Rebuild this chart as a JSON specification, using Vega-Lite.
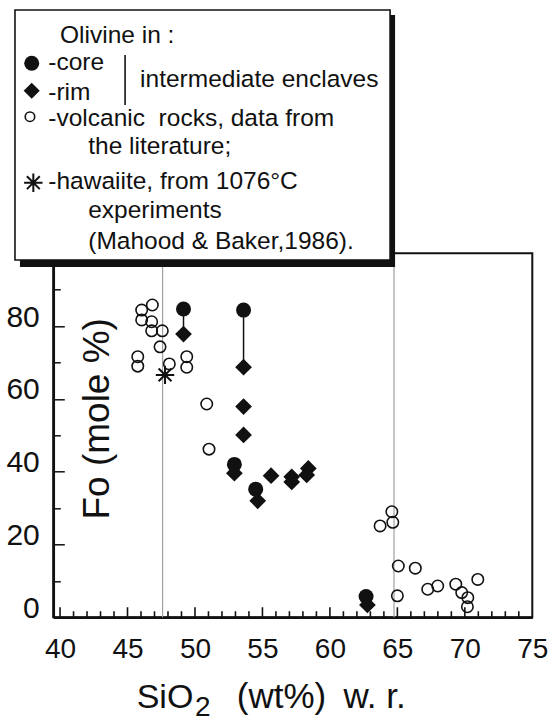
{
  "$schema": "https://vega.github.io/schema/vega-lite/v6.json",
  "width": 479,
  "height": 364,
  "autosize": "none",
  "padding": {"left": 53.3, "top": 253.3, "right": 16.7, "bottom": 105.7},
  "background": "white",
  "config": {
    "font": "Liberation Sans",
    "view": {"stroke": "#111111", "strokeWidth": 2},
    "text": {"font": "Liberation Sans", "color": "#111111", "align": "left", "baseline": "alphabetic"},
    "axis": {
      "grid": false,
      "tickWidth": 1.5,
      "tickColor": "#111111",
      "domainColor": "#111111",
      "domainWidth": 2.5,
      "labelFont": "Liberation Sans",
      "labelColor": "#111111",
      "labelOverlap": false,
      "labelFlush": false
    },
    "axisX": {"labelFontSize": 28, "labelPadding": 18, "ticks": false, "tickSize": 0},
    "axisY": {"labelFontSize": 30, "labelPadding": 25, "labelOffset": -9}
  },
  "data": {"values": [{}]},
  "datasets": {
    "refLines": [{"sio2": 47.6}, {"sio2": 64.75}],
    "majorTicks": [
      {"sio2": 40}, {"sio2": 45}, {"sio2": 50}, {"sio2": 55},
      {"sio2": 60}, {"sio2": 65}, {"sio2": 70}
    ],
    "minorTicks": [
      {"sio2": 41}, {"sio2": 42}, {"sio2": 43}, {"sio2": 44},
      {"sio2": 46}, {"sio2": 47}, {"sio2": 48}, {"sio2": 49},
      {"sio2": 51}, {"sio2": 52}, {"sio2": 53}, {"sio2": 54},
      {"sio2": 56}, {"sio2": 57}, {"sio2": 58}, {"sio2": 59},
      {"sio2": 61}, {"sio2": 62}, {"sio2": 63}, {"sio2": 64},
      {"sio2": 66}, {"sio2": 67}, {"sio2": 68}, {"sio2": 69},
      {"sio2": 71}, {"sio2": 72}, {"sio2": 73}, {"sio2": 74}
    ],
    "tieLines": [
      {"sio2": 49.15, "core": 84.7, "rim": 77.8},
      {"sio2": 53.6, "core": 84.4, "rim": 68.7}
    ],
    "olivine": [
      {"sio2": 46.05, "fo": 84.4, "type": "volcanic"},
      {"sio2": 46.84, "fo": 85.8, "type": "volcanic"},
      {"sio2": 46.05, "fo": 81.7, "type": "volcanic"},
      {"sio2": 46.79, "fo": 81.2, "type": "volcanic"},
      {"sio2": 46.79, "fo": 78.7, "type": "volcanic"},
      {"sio2": 47.58, "fo": 78.7, "type": "volcanic"},
      {"sio2": 47.41, "fo": 74.3, "type": "volcanic"},
      {"sio2": 45.76, "fo": 71.6, "type": "volcanic"},
      {"sio2": 45.76, "fo": 69.0, "type": "volcanic"},
      {"sio2": 48.1, "fo": 69.6, "type": "volcanic"},
      {"sio2": 49.39, "fo": 71.6, "type": "volcanic"},
      {"sio2": 49.39, "fo": 68.7, "type": "volcanic"},
      {"sio2": 50.87, "fo": 58.6, "type": "volcanic"},
      {"sio2": 51.04, "fo": 46.2, "type": "volcanic"},
      {"sio2": 63.72, "fo": 25.1, "type": "volcanic"},
      {"sio2": 64.59, "fo": 29.0, "type": "volcanic"},
      {"sio2": 64.66, "fo": 26.1, "type": "volcanic"},
      {"sio2": 65.07, "fo": 14.1, "type": "volcanic"},
      {"sio2": 66.33, "fo": 13.5, "type": "volcanic"},
      {"sio2": 65.0, "fo": 5.9, "type": "volcanic"},
      {"sio2": 67.25, "fo": 7.7, "type": "volcanic"},
      {"sio2": 67.99, "fo": 8.6, "type": "volcanic"},
      {"sio2": 69.33, "fo": 9.1, "type": "volcanic"},
      {"sio2": 69.77, "fo": 6.8, "type": "volcanic"},
      {"sio2": 70.22, "fo": 5.4, "type": "volcanic"},
      {"sio2": 70.19, "fo": 2.9, "type": "volcanic"},
      {"sio2": 70.96, "fo": 10.4, "type": "volcanic"},
      {"sio2": 47.78, "fo": 66.6, "type": "hawaiite"},
      {"sio2": 49.15, "fo": 77.8, "type": "rim"},
      {"sio2": 53.6, "fo": 68.7, "type": "rim"},
      {"sio2": 53.6, "fo": 57.9, "type": "rim"},
      {"sio2": 53.6, "fo": 50.1, "type": "rim"},
      {"sio2": 52.92, "fo": 39.6, "type": "rim"},
      {"sio2": 54.65, "fo": 32.0, "type": "rim"},
      {"sio2": 55.64, "fo": 38.9, "type": "rim"},
      {"sio2": 57.17, "fo": 38.6, "type": "rim"},
      {"sio2": 57.17, "fo": 37.2, "type": "rim"},
      {"sio2": 58.4, "fo": 40.9, "type": "rim"},
      {"sio2": 58.28, "fo": 39.1, "type": "rim"},
      {"sio2": 62.78, "fo": 3.4, "type": "rim"},
      {"sio2": 49.15, "fo": 84.7, "type": "core"},
      {"sio2": 53.6, "fo": 84.4, "type": "core"},
      {"sio2": 52.92, "fo": 42.0, "type": "core"},
      {"sio2": 54.5, "fo": 35.2, "type": "core"},
      {"sio2": 62.68, "fo": 5.7, "type": "core"}
    ]
  },
  "layer": [
    {
      "data": {"name": "refLines"},
      "mark": {"type": "rule", "color": "#a0a0a0", "strokeWidth": 1.2},
      "encoding": {
        "x": {
          "field": "sio2",
          "type": "quantitative",
          "scale": {"domain": [39.5, 75], "nice": false, "zero": false},
          "axis": {
            "title": "",
            "values": [40, 45, 50, 55, 60, 65, 70, 75]
          }
        },
        "y": {
          "datum": 0,
          "type": "quantitative",
          "scale": {"domain": [0, 100], "nice": false, "zero": true},
          "axis": {
            "title": "Fo (mole %)",
            "titleFont": "Liberation Sans",
            "titleFontSize": 37,
            "titleFontWeight": "normal",
            "titleColor": "#111111",
            "titleAngle": -90,
            "titleAlign": "center",
            "titleBaseline": "alphabetic",
            "titleX": 55,
            "titleY": 165,
            "values": [0, 10, 20, 30, 40, 50, 60, 70, 80, 90],
            "labelExpr": "datum.value % 20 === 0 ? datum.label : ''",
            "tickSize": {"condition": {"test": "datum.value % 20 === 0", "value": -11}, "value": -7}
          }
        },
        "y2": {"datum": 100}
      }
    },
    {
      "data": {"name": "majorTicks"},
      "mark": {"type": "point", "shape": "M0,-1L0,0", "filled": false, "stroke": "#111111", "strokeWidth": 1.6, "size": 400, "opacity": 1},
      "encoding": {
        "x": {"field": "sio2", "type": "quantitative"},
        "y": {"datum": 0.01}
      }
    },
    {
      "data": {"name": "minorTicks"},
      "mark": {"type": "point", "shape": "M0,-1L0,0", "filled": false, "stroke": "#111111", "strokeWidth": 1.6, "size": 144, "opacity": 1},
      "encoding": {
        "x": {"field": "sio2", "type": "quantitative"},
        "y": {"datum": 0.01}
      }
    },
    {
      "data": {"name": "tieLines"},
      "mark": {"type": "rule", "color": "#111111", "strokeWidth": 1.5},
      "encoding": {
        "x": {"field": "sio2", "type": "quantitative"},
        "y": {"field": "core", "type": "quantitative"},
        "y2": {"field": "rim"}
      }
    },
    {
      "data": {"name": "olivine"},
      "transform": [{"filter": "datum.type === 'volcanic'"}],
      "mark": {"type": "point", "shape": "circle", "filled": false, "stroke": "#111111", "strokeWidth": 1.6, "size": 130, "opacity": 1},
      "encoding": {
        "x": {"field": "sio2", "type": "quantitative"},
        "y": {"field": "fo", "type": "quantitative"}
      }
    },
    {
      "data": {"name": "olivine"},
      "transform": [{"filter": "datum.type === 'hawaiite'"}],
      "mark": {"type": "point", "shape": "M-1,0L1,0M0,-1L0,1M-0.7,-0.7L0.7,0.7M-0.7,0.7L0.7,-0.7", "filled": false, "stroke": "#111111", "strokeWidth": 2, "size": 340, "opacity": 1},
      "encoding": {
        "x": {"field": "sio2", "type": "quantitative"},
        "y": {"field": "fo", "type": "quantitative"}
      }
    },
    {
      "data": {"name": "olivine"},
      "transform": [{"filter": "datum.type === 'rim'"}],
      "mark": {"type": "point", "shape": "diamond", "filled": true, "color": "#111111", "size": 280, "opacity": 1},
      "encoding": {
        "x": {"field": "sio2", "type": "quantitative"},
        "y": {"field": "fo", "type": "quantitative"}
      }
    },
    {
      "data": {"name": "olivine"},
      "transform": [{"filter": "datum.type === 'core'"}],
      "mark": {"type": "point", "shape": "circle", "filled": true, "color": "#111111", "size": 225, "opacity": 1},
      "encoding": {
        "x": {"field": "sio2", "type": "quantitative"},
        "y": {"field": "fo", "type": "quantitative"}
      }
    },
    {
      "mark": {"type": "rect", "color": "#111111"},
      "encoding": {
        "x": {"datum": 37.03}, "x2": {"datum": 64.83},
        "y": {"datum": 165.47}, "y2": {"datum": 96.24}
      }
    },
    {
      "mark": {"type": "rect", "fill": "white", "stroke": "#111111", "strokeWidth": 1.6},
      "encoding": {
        "x": {"datum": 36.66}, "x2": {"datum": 64.46},
        "y": {"datum": 166.84}, "y2": {"datum": 98.16}
      }
    },
    {
      "mark": {"type": "rule", "color": "#111111", "strokeWidth": 1.6},
      "encoding": {
        "x": {"datum": 44.82},
        "y": {"datum": 154.48}, "y2": {"datum": 140.74}
      }
    },
    {
      "mark": {"type": "point", "shape": "circle", "filled": true, "color": "#111111", "size": 225, "opacity": 1},
      "encoding": {"x": {"datum": 37.9}, "y": {"datum": 152.2}}
    },
    {
      "mark": {"type": "point", "shape": "diamond", "filled": true, "color": "#111111", "size": 260, "opacity": 1},
      "encoding": {"x": {"datum": 37.9}, "y": {"datum": 144.64}}
    },
    {
      "mark": {"type": "point", "shape": "circle", "filled": false, "stroke": "#111111", "strokeWidth": 1.6, "size": 90, "opacity": 1},
      "encoding": {"x": {"datum": 37.77}, "y": {"datum": 137.53}}
    },
    {
      "mark": {"type": "point", "shape": "M-1,0L1,0M0,-1L0,1M-0.7,-0.7L0.7,0.7M-0.7,0.7L0.7,-0.7", "filled": false, "stroke": "#111111", "strokeWidth": 2, "size": 340, "opacity": 1},
      "encoding": {"x": {"datum": 38.02}, "y": {"datum": 119.4}}
    },
    {
      "mark": {"type": "text", "text": "Olivine in :", "fontSize": 24.5},
      "encoding": {"x": {"datum": 40.0}, "y": {"datum": 157.69}}
    },
    {
      "mark": {"type": "text", "text": "-core", "fontSize": 24.5},
      "encoding": {"x": {"datum": 39.13}, "y": {"datum": 150.36}}
    },
    {
      "mark": {"type": "text", "text": "-rim", "fontSize": 24.5},
      "encoding": {"x": {"datum": 39.13}, "y": {"datum": 142.12}}
    },
    {
      "mark": {"type": "text", "text": "intermediate enclaves", "fontSize": 24.5},
      "encoding": {"x": {"datum": 45.93}, "y": {"datum": 145.6}}
    },
    {
      "mark": {"type": "text", "text": "-volcanic\u00a0\u00a0rocks, data from", "fontSize": 24.5},
      "encoding": {"x": {"datum": 39.13}, "y": {"datum": 134.97}}
    },
    {
      "mark": {"type": "text", "text": "the literature;", "fontSize": 24.5},
      "encoding": {"x": {"datum": 42.09}, "y": {"datum": 127.28}}
    },
    {
      "mark": {"type": "text", "text": "-hawaiite, from 1076°C", "fontSize": 24.5},
      "encoding": {"x": {"datum": 39.13}, "y": {"datum": 117.58}}
    },
    {
      "mark": {"type": "text", "text": "experiments", "fontSize": 24.5},
      "encoding": {"x": {"datum": 42.09}, "y": {"datum": 109.62}}
    },
    {
      "mark": {"type": "text", "text": "(Mahood & Baker,1986).", "fontSize": 24.5},
      "encoding": {"x": {"datum": 42.09}, "y": {"datum": 101.1}}
    },
    {
      "mark": {"type": "text", "text": "SiO", "fontSize": 34},
      "encoding": {"x": {"datum": 45.68}, "y": {"datum": -25.0}}
    },
    {
      "mark": {"type": "text", "text": "2", "fontSize": 28},
      "encoding": {"x": {"datum": 50.0}, "y": {"datum": -27.2}}
    },
    {
      "mark": {"type": "text", "text": "(wt%)", "fontSize": 35},
      "encoding": {"x": {"datum": 53.1}, "y": {"datum": -25.0}}
    },
    {
      "mark": {"type": "text", "text": "w. r.", "fontSize": 35},
      "encoding": {"x": {"datum": 61.0}, "y": {"datum": -25.0}}
    }
  ]
}
